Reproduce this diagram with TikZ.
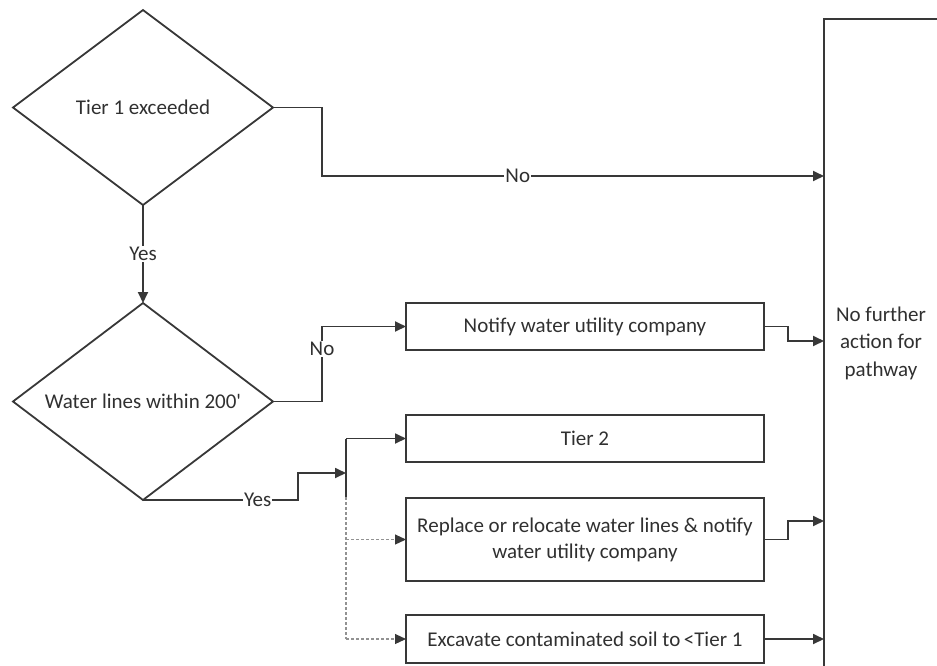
\documentclass[tikz,border=0pt]{standalone}
\usepackage{fontspec}
\setmainfont{Carlito}
\usetikzlibrary{shapes.geometric,arrows.meta}
\definecolor{ln}{HTML}{383838}
\definecolor{tx}{HTML}{303030}
\tikzset{
  every node/.style={font=\fontsize{21}{26}\selectfont, text=tx},
  dec/.style={draw=ln, line width=1.8pt, shape=diamond, aspect=1.33, inner sep=0pt, outer sep=0pt, minimum width=260pt},
  box/.style={draw=ln, line width=1.8pt, rectangle, inner sep=0pt, outer sep=0pt, minimum width=358pt, align=center},
  arr/.style={draw=ln, line width=1.8pt, -{Triangle[length=11pt,width=10pt]}},
  ln/.style={draw=ln, line width=1.8pt},
  dsh/.style={draw=ln!55, line width=1.1pt, dash pattern=on 3pt off 2pt},
  dsharr/.style={dsh, -{Triangle[length=11pt,width=10pt]}, -{Triangle[length=11pt,width=10pt,fill=ln,color=ln]}},
  lab/.style={fill=white, inner sep=1pt},
}
\begin{document}
\begin{tikzpicture}[x=1pt,y=-1pt]
\path[use as bounding box] (0,0) rectangle (937,665);
\clip (0,0) rectangle (937,665);
\node[dec, minimum height=195pt] (d1) at (143,107.5) {Tier 1 exceeded};
\node[dec, minimum height=197pt] (d2) at (143,401.5) {Water lines within 200\textquotesingle};
\node[box, minimum height=47pt] (notify) at (585,326.5) {Notify water utility company};
\node[box, minimum height=47pt] (tier2) at (585,438.5) {Tier 2};
\node[box, minimum height=83pt] (replace) at (585,539.5) {Replace or relocate water lines \& notify\\water utility company};
\node[box, minimum height=48pt] (exc) at (585,639) {Excavate contaminated soil to\,<Tier 1};
\node[draw=ln, line width=1.8pt, rectangle, inner sep=0pt, outer sep=0pt, minimum width=114pt, minimum height=648pt, align=center, font=\fontsize{21}{27.5}\selectfont] (big) at (881,343) {No further\\action for\\pathway};
\coordinate (j) at (346,473);
\coordinate (jt) at (j |- tier2.west);
\coordinate (jr) at (j |- replace.west);
\coordinate (je) at (j |- exc.west);
\coordinate (js) at (346,497);
% No from d1
\draw[arr] (d1.east) -- (322,107.5) -- (322,176) -- node[lab, pos=0.39]{No} (big.west |- 0,176);
% Yes d1 -> d2
\draw[arr] (d1.south) -- node[lab]{Yes} (d2.north);
% No from d2
\draw[arr] (d2.east) -- (322,401.5) -- node[lab, pos=0.7]{No} (322,326.5) -- (notify.west);
% Yes from d2
\draw[arr] (d2.south) -- node[lab, pos=0.74]{Yes} (d2.south -| 298,0) -- (298,473) -- (j);
\draw[ln] (jt) -- (js);
\draw[dsh] (js) -- (je);
\draw[arr] (jt) -- (tier2.west);
\draw[dsharr] (jr) -- (replace.west);
\draw[dsharr] (je) -- (exc.west);
% to big box
\draw[arr] (notify.east) -- (788,326.5) -- (788,341) -- (big.west |- 0,341);
\draw[arr] (replace.east) -- (788,539.5) -- (788,521) -- (big.west |- 0,521);
\draw[arr] (exc.east) -- (big.west |- exc.east);
\end{tikzpicture}
\end{document}
